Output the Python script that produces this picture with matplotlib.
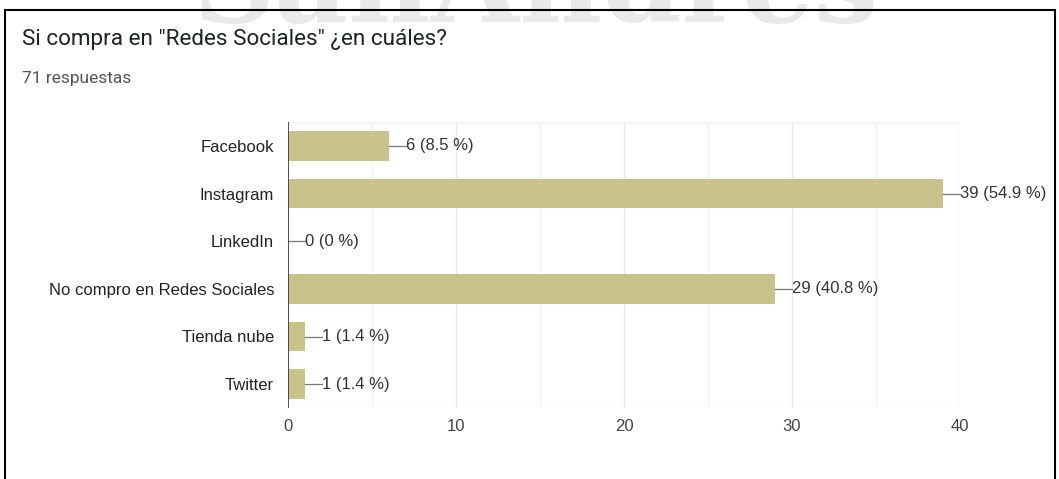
import matplotlib.pyplot as plt
from matplotlib.patches import Rectangle

categories = ["Facebook", "Instagram", "LinkedIn", "No compro en Redes Sociales", "Tienda nube", "Twitter"]
counts = [6, 39, 0, 29, 1, 1]
percents = ["8.5", "54.9", "0", "40.8", "1.4", "1.4"]
xticks = [0, 10, 20, 30, 40]

W, H = 1059, 479
fig = plt.figure(figsize=(W / 100, H / 100), dpi=100)
fig.patch.set_facecolor("white")
plt.rcParams["font.family"] = ["Liberation Sans", "DejaVu Sans"]

# faint watermark at the top, cut by the edge
fig.text(535 / W, 1 - 22 / H, "SanAndres", family="DejaVu Serif", fontweight="bold", fontsize=82,
         color="#e9e9e9", ha="center", va="baseline", zorder=0)

# frame of the screenshot
fig.patches.append(Rectangle((5 / W, -0.05), 1050 / W, 1 - 10 / H + 0.05, transform=fig.transFigure,
                             fill=False, edgecolor="black", linewidth=1.5, zorder=1))

fig.text(22 / W, 1 - 40 / H, 'Si compra en "Redes Sociales" ¿en cuáles?', family="Roboto",
         fontsize=16.2, color="#202124", va="center", ha="left")
fig.text(22 / W, 1 - 78 / H, "71 respuestas", family="Roboto", fontsize=12.5, color="#555555",
         va="center", ha="left")

ax = fig.add_axes([288 / W, 1 - 408 / H, (960 - 288) / W, (408 - 122) / H])
ax.set_facecolor("none")
y = list(range(len(categories)))
ax.barh(y, counts, height=0.62, color="#c9c38b", zorder=2)
ax.set_ylim(len(categories) - 0.5, -0.5)
ax.set_xlim(0, 40)

for i, (c, p) in enumerate(zip(counts, percents)):
    ax.plot([c, c + 1.0], [i, i], color="#777777", linewidth=0.9, zorder=3, clip_on=False)
    ax.text(c + 1.0, i, f"{c} ({p} %)", va="center", ha="left", fontsize=12,
            color="#333333", clip_on=False)

for v in range(5, 41, 5):
    ax.axvline(v, color="#e6e6e6" if v % 10 == 0 else "#f2f2f2", linewidth=1, zorder=1)
ax.axvline(0, color="#333333", linewidth=1.2, zorder=4)
ax.axhline(len(categories) - 0.5, color="#f2f2f2", linewidth=1, zorder=1)
ax.axhline(-0.5, color="#f2f2f2", linewidth=1, zorder=1)

ax.set_yticks(y)
ax.set_yticklabels(categories, fontsize=12, color="#222222")
ax.set_xticks(xticks)
ax.set_xticklabels([str(t) for t in xticks], fontsize=12, color="#444444")
ax.tick_params(axis="y", length=0, pad=10)
ax.tick_params(axis="x", length=0, pad=8)
for s in ax.spines.values():
    s.set_visible(False)

fig.savefig("out.png", dpi=100, facecolor="white")
